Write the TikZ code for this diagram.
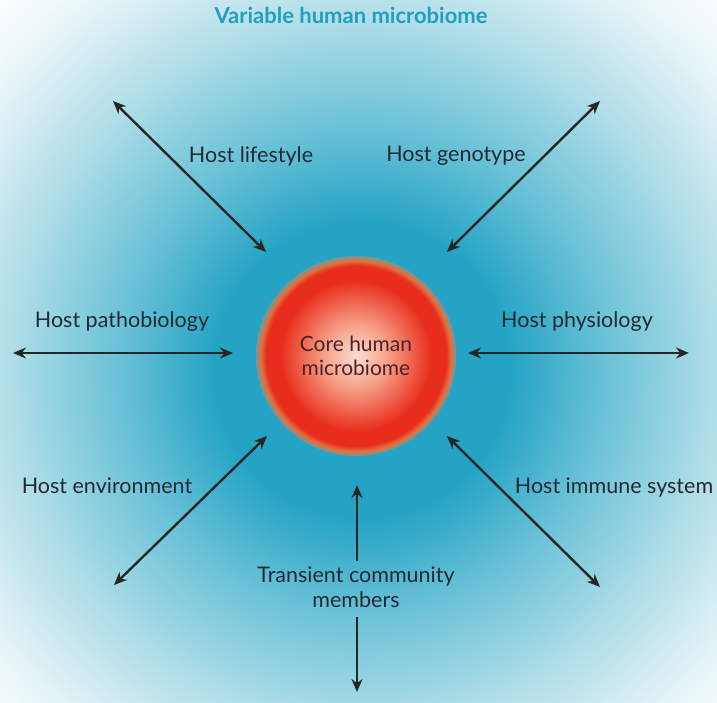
\documentclass[tikz,border=0pt]{standalone}
\usepackage{fontspec}
\setmainfont{Lato}
\usetikzlibrary{arrows.meta}
\definecolor{glowcyan}{RGB}{36,163,197}
\definecolor{glowmid}{RGB}{105,193,214}
\definecolor{glowpale}{RGB}{172,220,231}
\definecolor{glowfaint}{RGB}{230,244,247}
\definecolor{corelight}{RGB}{250,222,210}
\definecolor{corepink}{RGB}{246,160,135}
\definecolor{corered}{RGB}{232,45,28}
\definecolor{corerim}{RGB}{226,112,60}
\definecolor{coreedge}{RGB}{120,150,150}
\definecolor{labelink}{RGB}{33,42,52}
\definecolor{titlecyan}{RGB}{34,158,190}
% radius of the filled path sits at 25bp
\pgfdeclareradialshading{bgglow}{\pgfpoint{0bp}{0bp}}{color(0bp)=(glowcyan); color(7bp)=(glowcyan); color(11.5bp)=(glowmid); color(16.5bp)=(glowpale); color(21.5bp)=(glowfaint); color(25bp)=(white); color(50bp)=(white)}
\pgfdeclareradialshading{coreball}{\pgfpoint{0bp}{0bp}}{color(0bp)=(corelight); color(8bp)=(corepink); color(19bp)=(corered); color(22.5bp)=(corered); color(23.8bp)=(corerim); color(25bp)=(coreedge); color(50bp)=(coreedge)}
\begin{document}
\begin{tikzpicture}[x=1pt,y=-1pt,every node/.style={font=\fontsize{21.5}{25}\selectfont,text=labelink},
  dbl/.style={{Stealth[length=13pt,width=11pt]}-{Stealth[length=13pt,width=11pt]},line width=2.4pt,black!85},
  sgl/.style={-{Stealth[length=13pt,width=11pt]},line width=2.4pt,black!85}]
  \useasboundingbox (0,0) rectangle (717,703);
  % glow behind everything
  \begin{scope}
    \clip (0,0) rectangle (717,703);
    \shade[shading=bgglow] (362,370) circle (525);
  \end{scope}
  \node[font=\fontsize{22}{25}\selectfont\bfseries,text=titlecyan] (title) at (351,15) {Variable human microbiome};
  \node[circle,minimum size=200,shading=coreball,align=center,text=labelink!80!red,font=\fontsize{21}{24}\selectfont] (core) at (356,356) {Core human\\microbiome};
  % labels
  \node (life) at (251,156) {Host lifestyle};
  \node (geno) at (456,156) {Host genotype};
  \node (patho) at (122,322) {Host pathobiology};
  \node (physio) at (577,322) {Host physiology};
  \node (env) at (107,486) {Host environment};
  \node (immune) at (614,487) {Host immune system};
  \node[align=center] (trans) at (356,587) {Transient community\\members};
  % arrow ends
  \coordinate (lifeA) at (113,101); \coordinate (lifeB) at (266,252);
  \coordinate (genoA) at (600,101); \coordinate (genoB) at (447,252);
  \coordinate (pathoA) at (13,353); \coordinate (pathoB) at (233,353);
  \coordinate (physioA) at (468,353); \coordinate (physioB) at (689,353);
  \coordinate (envA) at (267,436); \coordinate (envB) at (114,585);
  \coordinate (immA) at (447,436); \coordinate (immB) at (600,587);
  \coordinate (transUp) at (357,485); \coordinate (transDown) at (357,692);
  \draw[dbl] (lifeA) -- (lifeB);
  \draw[dbl] (genoA) -- (genoB);
  \draw[dbl] (pathoA) -- (pathoB);
  \draw[dbl] (physioA) -- (physioB);
  \draw[dbl] (envA) -- (envB);
  \draw[dbl] (immA) -- (immB);
  \draw[sgl] (trans.north -| transUp) ++(0,-2) -- (transUp);
  \draw[sgl] (trans.south -| transDown) ++(0,6) -- (transDown);
\end{tikzpicture}
\end{document}
